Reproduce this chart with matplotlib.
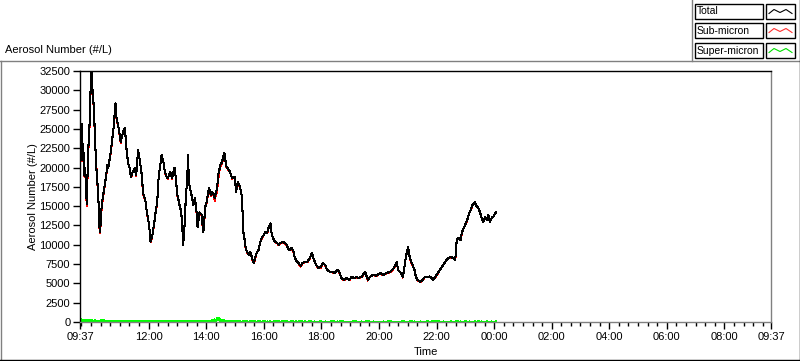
import datetime as dt
import numpy as np
import matplotlib
matplotlib.use("Agg")
import matplotlib.pyplot as plt
from matplotlib.patches import Rectangle
from matplotlib.lines import Line2D

plt.rcParams['font.family'] = ['Liberation Sans', 'DejaVu Sans']
plt.rcParams['font.size'] = 8

# minutes after the 09:37 start
minutes = [
    0, 2, 4, 5, 7, 8, 10, 12, 14, 16,
    17, 19, 21, 22, 24, 25, 26, 28, 30, 31,
    33, 34, 36, 38, 39, 40, 42, 43, 44, 46,
    48, 50, 51, 53, 55, 57, 59, 61, 63, 65,
    67, 69, 71, 72, 74, 76, 78, 79, 81, 83,
    85, 87, 90, 92, 93, 95, 96, 98, 100, 102,
    104, 105, 107, 108, 110, 113, 114, 116, 117, 119,
    121, 123, 124, 126, 128, 130, 131, 133, 135, 137,
    138, 141, 144, 147, 149, 151, 153, 155, 157, 160,
    162, 163, 165, 167, 169, 170, 172, 174, 176, 179,
    181, 183, 185, 188, 190, 192, 194, 197, 198, 199,
    201, 203, 205, 206, 208, 210, 212, 213, 215, 217,
    219, 220, 222, 224, 225, 226, 227, 229, 231, 234,
    236, 238, 240, 241, 243, 245, 247, 249, 251, 254,
    255, 257, 259, 261, 262, 264, 266, 269, 271, 273,
    275, 278, 281, 283, 286, 287, 289, 291, 292, 294,
    296, 298, 301, 303, 304, 306, 308, 311, 313, 315,
    317, 319, 322, 324, 325, 327, 329, 332, 334, 336,
    338, 339, 340, 342, 343, 344, 346, 348, 350, 352,
    353, 355, 357, 358, 360, 362, 364, 365, 367, 369,
    372, 374, 376, 379, 383, 386, 390, 393, 397, 398,
    400, 404, 407, 411, 414, 417, 421, 424, 427, 431,
    433, 436, 441, 445, 447, 450, 455, 460, 464, 469,
    474, 479, 483, 488, 492, 497, 502, 506, 511, 515,
    521, 527, 531, 536, 540, 545, 550, 556, 561, 566,
    571, 577, 580, 587, 594, 600, 604, 611, 618, 625,
    632, 639, 646, 651, 655, 660, 663, 669, 673, 676,
    679, 681, 684, 686, 690, 693, 697, 700, 703, 709,
    714, 719, 725, 729, 734, 736, 743, 750, 757, 763,
    768, 773, 778, 782, 785, 789, 793, 796, 800, 804,
    807, 811, 814, 818, 823, 827, 830, 834, 837, 840,
    844, 848, 851, 854, 858, 861, 865, 867,
]

total = [
    20500, 22500, 25700, 21000, 23000, 19000, 20000, 18500, 15300, 19500,
    22000, 24500, 27000, 30000, 32500, 31000, 30200, 28500, 26000, 24000,
    21500, 20000, 18200, 16500, 14800, 12500, 11600, 12800, 14200, 15500,
    16400, 17000, 17500, 18300, 19200, 20300, 20000, 20800, 21500, 22500,
    23500, 24600, 25800, 26800, 28300, 26500, 25900, 25300, 25100, 24000,
    23300, 24000, 24600, 25000, 25100, 24000, 22900, 21800, 20700, 20200,
    19900, 19200, 18800, 19300, 19400, 19700, 19900, 19300, 19000, 20500,
    22300, 21600, 21200, 20300, 19400, 18000, 16800, 16300, 16000, 15500,
    14800, 13700, 12600, 10400, 10800, 11300, 12100, 12950, 14000, 15150,
    16500, 18100, 19300, 20300, 21000, 21600, 21200, 20700, 19800, 19000,
    18800, 18600, 19000, 19400, 19000, 18600, 19300, 20000, 19500, 19000,
    17700, 16400, 15900, 15500, 15000, 14500, 13500, 12600, 10000, 11800,
    13500, 15500, 17350, 19500, 21600, 19800, 18100, 17400, 16800, 16000,
    15150, 15600, 16000, 15100, 14200, 12300, 13300, 14200, 14000, 13850,
    12800, 11650, 13200, 14800, 15200, 15500, 16400, 17350, 16900, 16400,
    16800, 16600, 16000, 16700, 17350, 18400, 19400, 19900, 20300, 20500,
    20700, 21300, 21900, 21000, 20300, 20100, 19900, 19600, 19400, 19000,
    18600, 18700, 18800, 17800, 16800, 17500, 18100, 17700, 17350, 16700,
    16000, 13500, 11650, 11300, 10600, 10000, 9500, 9100, 8900, 8700,
    8900, 9100, 8700, 8300, 8000, 7650, 8000, 8300, 8700, 9100,
    9300, 9900, 10400, 10900, 11300, 11650, 11500, 12200, 12800, 12000,
    11300, 10600, 10400, 10250, 10000, 10250, 10300, 10400, 10200, 10000,
    9600, 9300, 9600, 9100, 8500, 8000, 7650, 7250, 7650, 7800,
    7800, 8300, 8950, 8000, 7400, 7000, 7100, 7650, 7400, 6750,
    6500, 6500, 6350, 6750, 6500, 5700, 5450, 5700, 5450, 5850,
    5700, 5850, 5700, 5850, 6500, 5450, 5850, 6100, 6000, 6350,
    6100, 6350, 6500, 6750, 7100, 7800, 6750, 6350, 5850, 7100,
    8400, 8950, 9700, 8700, 7800, 7400, 6750, 5850, 5450, 5200,
    5450, 5850, 5850, 5900, 5600, 5450, 6100, 6750, 7400, 8000,
    8300, 8400, 8300, 8000, 10600, 10900, 10600, 11650, 12200, 12800,
    13200, 14100, 14500, 15150, 15500, 14900, 14800, 14100, 13500, 12950,
    13600, 13200, 13850, 12950, 13500, 13600, 14100, 14200,
]

super_micron = [
    250, 120, 300, 150, 280, 100, 220, 180, 260, 120,
    200, 150, 230, 110, 180, 90, 200, 80, 150, 260,
    120, 50, 140, 60, 90, 40, 120, 100, 250, 200,
    300, 80, 120, 40, 60, 130, 40, 100, 50, 60,
    30, 90, 40, 110, 30, 60, 30, 50, 20, 40,
    100, 30, 60, 40, 120, 30, 70, 30, 40, 100,
    30, 60, 40, 80, 20, 50, 90, 30, 60, 40,
    120, 30, 50, 30, 60, 140, 40, 60, 30, 50,
    40, 90, 30, 60, 40, 30, 100, 30, 50, 40,
    80, 30, 60, 40, 30, 90, 40, 60, 30, 50,
    40, 70, 30, 50, 30, 90, 40, 30, 60, 40,
    50, 30, 90, 40, 30, 60, 40, 100, 30, 50,
    40, 60, 30, 80, 40, 30, 60, 40, 30, 70,
    30, 50, 40, 90, 30, 60, 30, 40, 80, 30,
    60, 40, 30, 120, 40, 60, 80, 30, 150, 60,
    200, 120, 300, 180, 450, 250, 550, 200, 300, 150,
    250, 100, 200, 80, 150, 60, 120, 40, 80, 30,
    60, 30, 50, 90, 30, 40, 60, 30, 50, 30,
    40, 30, 60, 30, 40, 90, 30, 50, 30, 40,
    30, 60, 30, 40, 100, 30, 50, 30, 40, 30,
    60, 30, 40, 30, 80, 30, 40, 30, 50, 30,
    30, 40, 100, 30, 50, 30, 40, 30, 60, 30,
    40, 30, 50, 30, 30, 40, 30, 80, 30, 40,
    30, 60, 30, 40, 30, 30, 50, 30, 40, 30,
    30, 100, 30, 40, 30, 60, 30, 30, 40, 30,
    50, 30, 30, 40, 30, 80, 30, 40, 30, 30,
    40, 30, 60, 30, 30, 40, 30, 30, 90, 30,
    30, 40, 30, 30, 60, 30, 40, 30, 30, 40,
    30, 30, 50, 30, 40, 30, 70, 30, 40, 30,
    30, 40, 30, 30, 60, 30, 40, 30, 30, 50,
    30, 40, 30, 30, 40, 30, 60, 30, 40, 30,
    30, 40, 30, 30, 40, 30, 30, 40,
]

y_ticks = [0, 2500, 5000, 7500, 10000, 12500, 15000, 17500, 20000,
           22500, 25000, 27500, 30000, 32500]
x_tick_labels = ["09:37", "12:00", "14:00", "16:00", "18:00", "20:00", "22:00",
                 "00:00", "02:00", "04:00", "06:00", "08:00", "09:37"]

start = dt.datetime(2000, 1, 1, 9, 37)
end = start + dt.timedelta(hours=24)
t = [start + dt.timedelta(minutes=m) for m in minutes]
total = np.array(total, dtype=float)
super_micron = np.array(super_micron, dtype=float)
sub_micron = total - super_micron

W, H = 800, 361
fig = plt.figure(figsize=(W / 100, H / 100), dpi=100)


def fx(x):
    return x / W


def fy(y):
    return 1 - y / H


ax = fig.add_axes([fx(80), fy(322), (771 - 80) / W, (322 - 71) / H])
ax.plot(t, sub_micron, color="#ff0000", lw=0.75, antialiased=False)
ax.plot(t, total, color="black", lw=0.75, antialiased=False)
ax.plot(t, super_micron, color="#00ff00", lw=1.0, antialiased=False)

ax.set_xlim(start, end)
ax.set_ylim(0, 32500)
ax.set_yticks(y_ticks)
ax.set_yticklabels([str(v) for v in y_ticks])

major = [start] + [dt.datetime(2000, 1, 1, 12) + dt.timedelta(hours=2 * i) for i in range(11)] + [end]
ax.set_xticks(major)
ax.set_xticklabels(x_tick_labels)
minor = [dt.datetime(2000, 1, 1, 9, 40) + dt.timedelta(minutes=20 * i) for i in range(72)]
ax.set_xticks(minor, minor=True)

ax.tick_params(axis="both", which="major", direction="out", length=5, width=1,
               colors="black", labelsize=8, pad=2)
ax.tick_params(axis="x", which="minor", direction="out", length=3, width=1, colors="black")
ax.tick_params(axis="x", which="major", pad=2)

for side in ["left", "top"]:
    ax.spines[side].set_color("black")
for side in ["bottom", "right"]:
    ax.spines[side].set_color("#808080")
for s in ax.spines.values():
    s.set_linewidth(1)

ax.set_ylabel("Aerosol Number (#/L)", fontsize=8, labelpad=1)
ax.set_xlabel("Time", fontsize=8, labelpad=4)

# top-left title and outer frame
fig.text(fx(5), fy(50), "Aerosol Number (#/L)", fontsize=8, va="center", ha="left")
fig.add_artist(Line2D([0, 1], [fy(61), fy(61)], color="#808080", lw=1))
fig.add_artist(Line2D([fx(0.5), fx(0.5)], [fy(61), fy(360)], color="#808080", lw=1))
fig.add_artist(Line2D([0, 1], [fy(359.5), fy(359.5)], color="black", lw=1))
fig.add_artist(Line2D([fx(799.5), fx(799.5)], [fy(0), fy(360)], color="black", lw=1))
fig.add_artist(Line2D([fx(691.5), fx(691.5)], [fy(0), fy(61)], color="#808080", lw=1))

# legend panel
legend_items = [("Total", "black"), ("Sub-micron", "#ff3030"), ("Super-micron", "#00e000")]
row_tops = [4, 23, 43]
for (label, col), top in zip(legend_items, row_tops):
    fig.add_artist(Rectangle((fx(695), fy(top + 15)), 68 / W, 15 / H, fill=False,
                             edgecolor="black", lw=1))
    fig.add_artist(Rectangle((fx(766), fy(top + 15)), 29 / W, 15 / H, fill=False,
                             edgecolor="black", lw=1))
    fig.text(fx(697), fy(top + 7.5), label, fontsize=7.5, va="center", ha="left")
    mid = top + 7.5
    zx = [769, 774, 780, 786, 792]
    zy = [mid + 2, mid - 2, mid + 1, mid - 2, mid + 2]
    fig.add_artist(Line2D([fx(v) for v in zx], [fy(v) for v in zy], color=col, lw=0.8))

fig.savefig("out.png", dpi=100)
